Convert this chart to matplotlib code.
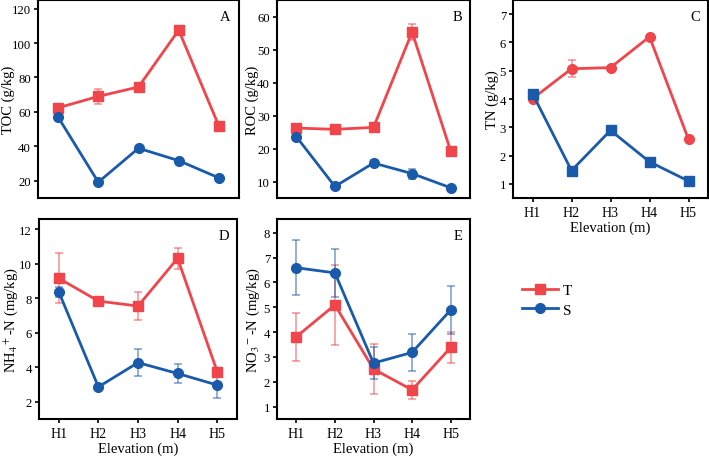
import matplotlib.pyplot as plt
import numpy as np

plt.rcParams['font.family'] = ['Liberation Serif', 'DejaVu Serif']
plt.rcParams['mathtext.fontset'] = 'stix'

sites = ['H1', 'H2', 'H3', 'H4', 'H5']

toc_t = [62.4, 69.0, 74.5, 107.5, 51.8]
toc_t_err = [1.0, 4.5, 1.0, 1.0, 1.0]
toc_s = [57.0, 19.2, 38.9, 31.7, 21.7]
toc_s_err = [1.0, 1.0, 1.0, 1.0, 1.0]

roc_t = [26.2, 25.8, 26.4, 55.3, 19.2]
roc_t_err = [0.5, 0.5, 0.5, 2.5, 0.5]
roc_s = [23.6, 8.5, 15.6, 12.4, 8.1]
roc_s_err = [0.5, 0.5, 0.8, 1.5, 0.5]

tn_t = [4.01, 5.07, 5.11, 6.2, 2.57]
tn_t_err = [0.05, 0.3, 0.05, 0.05, 0.05]
tn_s = [4.19, 1.47, 2.89, 1.78, 1.1]
tn_s_err = [0.05, 0.05, 0.05, 0.05, 0.05]

nh4_t = [9.16, 7.84, 7.55, 10.32, 3.75]
nh4_t_err = [1.45, 0.2, 0.8, 0.6, 0.2]
nh4_s = [8.37, 2.86, 4.27, 3.64, 2.97]
nh4_s_err = [0.3, 0.1, 0.8, 0.55, 0.75]

no3_t = [3.81, 5.09, 2.51, 1.67, 3.38]
no3_t_err = [0.97, 1.6, 1.0, 0.37, 0.64]
no3_s = [6.59, 6.38, 2.75, 3.18, 4.89]
no3_s_err = [1.1, 0.98, 0.65, 0.73, 0.98]

RED = '#f0454b'
BLUE = '#1a5aaa'

fig = plt.figure(figsize=(7.09, 4.6), dpi=100)
W, H = 709, 460


def make_ax(l, r, t, b):
    return fig.add_axes([l / W, 1 - b / H, (r - l) / W, (b - t) / H])


def panel(ax, t, te, s, se, ylim, yticks, ylabel, letter, label_dx,
          t_marker='s', s_marker='o', xlabels=False):
    x = np.arange(1, len(sites) + 1)
    for vals, errs, col, mk, lab in [(t, te, RED, t_marker, 'T'),
                                     (s, se, BLUE, s_marker, 'S')]:
        ax.errorbar(x, vals, yerr=errs, fmt='none', ecolor=col, alpha=0.6,
                    elinewidth=1.1, capsize=3, capthick=1.1, zorder=2)
        ax.plot(x, vals, color=col, marker=mk, markersize=7, lw=2,
                label=lab, zorder=3)
    ax.set_xlim(0.5, 5.5)
    ax.set_ylim(*ylim)
    ax.set_yticks(yticks)
    ax.set_ylabel(ylabel, fontsize=10.5, va='center')
    # label_dx: pixel offset of the label centre from the left spine
    width_px = ax.get_position().width * W
    ax.yaxis.set_label_coords(label_dx / width_px, 0.5)
    ax.text(0.96, 0.95, letter, transform=ax.transAxes, ha='right',
            va='top', fontsize=10.5)
    for sp in ax.spines.values():
        sp.set_linewidth(1.5)
    ax.tick_params(axis='y', direction='out', length=3, width=1.2,
                   labelsize=9.2, pad=2)
    if xlabels:
        ax.set_xticks(x)
        ax.set_xticklabels(sites)
        ax.tick_params(axis='x', direction='out', length=3, width=1.2,
                       labelsize=10, pad=3)
        ax.set_xlabel('Elevation (m)', fontsize=10.5, labelpad=1)
    else:
        ax.set_xticks([])
    return ax


axA = make_ax(38, 239, 1, 199)
panel(axA, toc_t, toc_t_err, toc_s, toc_s_err, (10, 125),
      [20, 40, 60, 80, 100, 120], 'TOC (g/kg)', 'A', -30)

axB = make_ax(277, 470, 1, 199)
panel(axB, roc_t, roc_t_err, roc_s, roc_s_err, (5, 65),
      [10, 20, 30, 40, 50, 60], 'ROC (g/kg)', 'B', -25)

axC = make_ax(513, 708, 1, 199)
panel(axC, tn_t, tn_t_err, tn_s, tn_s_err, (0.5, 7.5),
      [1, 2, 3, 4, 5, 6, 7], 'TN (g/kg)', 'C', -21, t_marker='o',
      s_marker='s', xlabels=True)

axD = make_ax(39, 237, 220, 420)
panel(axD, nh4_t, nh4_t_err, nh4_s, nh4_s_err, (1, 12.6),
      [2, 4, 6, 8, 10, 12], r'NH$_4$$^+$-N (mg/kg)', 'D', -28, xlabels=True)

axE = make_ax(277, 470, 220, 420)
panel(axE, no3_t, no3_t_err, no3_s, no3_s_err, (0.5, 8.55),
      [1, 2, 3, 4, 5, 6, 7, 8], r'NO$_3$$^-$-N (mg/kg)', 'E', -24,
      xlabels=True)

handles, labels = axA.get_legend_handles_labels()
fig.legend(handles, labels, loc='center left',
           bbox_to_anchor=(508 / W, 1 - 301 / H), frameon=False,
           fontsize=11, handlelength=2.4, handletextpad=0.3,
           labelspacing=0.4)

fig.savefig('out.png', dpi=100)
